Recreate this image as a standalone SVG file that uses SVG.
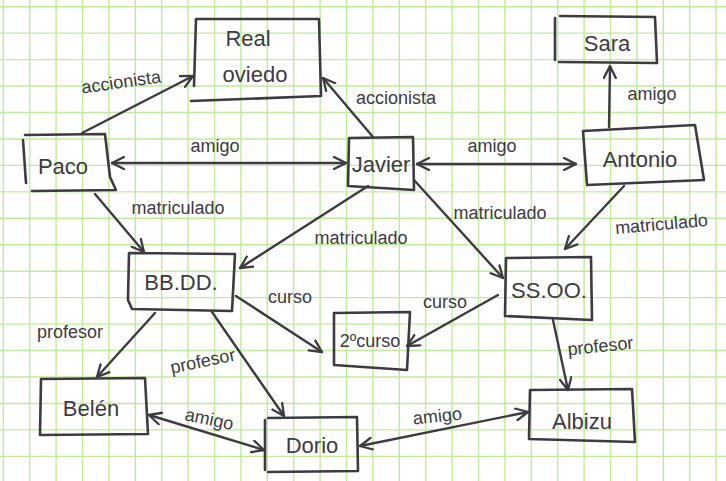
<svg xmlns="http://www.w3.org/2000/svg" width="726" height="481" viewBox="0 0 726 481">
<defs>
<marker id="ah" viewBox="0 0 14 14" refX="13" refY="7" markerWidth="14" markerHeight="14" markerUnits="userSpaceOnUse" orient="auto-start-reverse">
<path d="M1,1 L13,7 L1,13" fill="none" stroke="#3d3a42" stroke-width="2.3" stroke-linecap="round" stroke-linejoin="round"/>
</marker>
<style>
.grid{stroke:#c2ea9c;stroke-width:1.4;fill:none}
.box{fill:none;stroke:#3d3a42;stroke-width:2.6;stroke-linejoin:round;stroke-linecap:round}
.edge{fill:none;stroke:#3d3a42;stroke-width:2.4;stroke-linecap:round}
.nt{font-family:"Liberation Sans",Arial,sans-serif;font-size:22px;fill:#3d3a42;text-anchor:middle}
.lt{font-family:"Liberation Sans",Arial,sans-serif;font-size:18px;fill:#3d3a42;text-anchor:middle}
</style>
</defs>
<rect x="0" y="0" width="726" height="481" fill="#ffffff"/>
<path class="grid" d="M3.3,0V481M29.7,0V481M56.1,0V481M82.5,0V481M108.9,0V481M135.3,0V481M161.7,0V481M188.1,0V481M214.5,0V481M240.9,0V481M267.3,0V481M293.7,0V481M320.1,0V481M346.5,0V481M372.9,0V481M399.3,0V481M425.7,0V481M452.1,0V481M478.5,0V481M504.9,0V481M531.3,0V481M557.7,0V481M584.1,0V481M610.5,0V481M636.9,0V481M663.3,0V481M689.7,0V481M716.1,0V481M0,6.7H726M0,33.15H726M0,59.6H726M0,86.05H726M0,112.5H726M0,138.95H726M0,165.4H726M0,191.85H726M0,218.3H726M0,244.75H726M0,271.2H726M0,297.65H726M0,324.1H726M0,350.55H726M0,377H726M0,403.45H726M0,429.9H726M0,456.35H726"/>
<g id="connectors">
<path class="edge" d="M82,133 L193,76" marker-end="url(#ah)"/>
<path class="edge" d="M373,137 L323,78" marker-end="url(#ah)"/>
<path class="edge" d="M112,163 L346,163" marker-start="url(#ah)" marker-end="url(#ah)"/>
<path class="edge" d="M417,164 L576,164" marker-start="url(#ah)" marker-end="url(#ah)"/>
<path class="edge" d="M609,127 L610,66" marker-end="url(#ah)"/>
<path class="edge" d="M95,194 L144,252" marker-end="url(#ah)"/>
<path class="edge" d="M368,186 L240,268" marker-end="url(#ah)"/>
<path class="edge" d="M414,180 L503,278" marker-end="url(#ah)"/>
<path class="edge" d="M624,186 L565,249" marker-end="url(#ah)"/>
<path class="edge" d="M236,296 L322,352" marker-end="url(#ah)"/>
<path class="edge" d="M498,295 L407,346" marker-end="url(#ah)"/>
<path class="edge" d="M155,313 L97,377" marker-end="url(#ah)"/>
<path class="edge" d="M212,312 L284,416" marker-end="url(#ah)"/>
<path class="edge" d="M149,415 L264,450" marker-start="url(#ah)" marker-end="url(#ah)"/>
<path class="edge" d="M360,446 L528,412" marker-start="url(#ah)" marker-end="url(#ah)"/>
<path class="edge" d="M553,320 L568,390" marker-end="url(#ah)"/>
</g>
<g id="edge-labels">
<text class="lt" x="122" y="88" transform="rotate(-8 122 88)">accionista</text>
<text class="lt" x="396" y="104">accionista</text>
<text class="lt" x="215" y="152">amigo</text>
<text class="lt" x="492" y="152">amigo</text>
<text class="lt" x="652" y="100">amigo</text>
<text class="lt" x="178" y="214">matriculado</text>
<text class="lt" x="361" y="244">matriculado</text>
<text class="lt" x="500" y="219">matriculado</text>
<text class="lt" x="662" y="230" transform="rotate(-5 662 230)">matriculado</text>
<text class="lt" x="290" y="303">curso</text>
<text class="lt" x="445" y="308">curso</text>
<text class="lt" x="70" y="338">profesor</text>
<text class="lt" x="204" y="367" transform="rotate(-12 204 367)">profesor</text>
<text class="lt" x="208" y="425" transform="rotate(12 208 425)">amigo</text>
<text class="lt" x="438" y="422" transform="rotate(-6 438 422)">amigo</text>
<text class="lt" x="601" y="352" transform="rotate(-6 601 352)">profesor</text>
</g>
<g id="node-real-oviedo">
<path class="box" d="M196,19 L319,19 L321,96 L191,101 M196,19 L194,86"/>
<text class="nt" x="248" y="46">Real</text>
<text class="nt" x="255" y="82">oviedo</text>
</g>
<g id="node-paco">
<path class="box" d="M25,135 L105,134 L110,177 L116,190 L32,191 M23,140 L26,183"/>
<text class="nt" x="63" y="174">Paco</text>
</g>
<g id="node-javier">
<path class="box" d="M349,138 L413,137 L414,190 L348,186 Z"/>
<text class="nt" x="381" y="172">Javier</text>
</g>
<g id="node-antonio">
<path class="box" d="M583,131 L695,125 L704,180 L587,185 Z"/>
<text class="nt" x="640" y="167">Antonio</text>
</g>
<g id="node-sara">
<path class="box" d="M560,16 L655,17 L657,63 L559,62 M555,18 L555,60"/>
<text class="nt" x="607" y="51">Sara</text>
</g>
<g id="node-bbdd">
<path class="box" d="M129,253 L235,254 L232,311 L132,309 L128,300 Z"/>
<text class="nt" x="181" y="290">BB.DD.</text>
</g>
<g id="node-belen">
<path class="box" d="M41,379 L145,378 L148,434 L40,435 Z"/>
<text class="nt" x="91" y="416">Belén</text>
</g>
<g id="node-dorio">
<path class="box" d="M268,418 L357,417 L358,471 L268,472 M265,420 L265,470"/>
<text class="nt" x="312" y="453">Dorio</text>
</g>
<g id="node-2curso">
<path class="box" d="M334,313 L410,312 L407,370 L334,365 Z"/>
<text class="nt" x="370" y="347" style="font-size:18px">2ºcurso</text>
</g>
<g id="node-ssoo">
<path class="box" d="M506,258 L591,257 L592,320 L505,316 Z"/>
<text class="nt" x="549" y="298">SS.OO.</text>
</g>
<g id="node-albizu">
<path class="box" d="M530,390 L632,389 L635,442 L529,439 Z"/>
<text class="nt" x="582" y="429">Albizu</text>
</g>
</svg>
